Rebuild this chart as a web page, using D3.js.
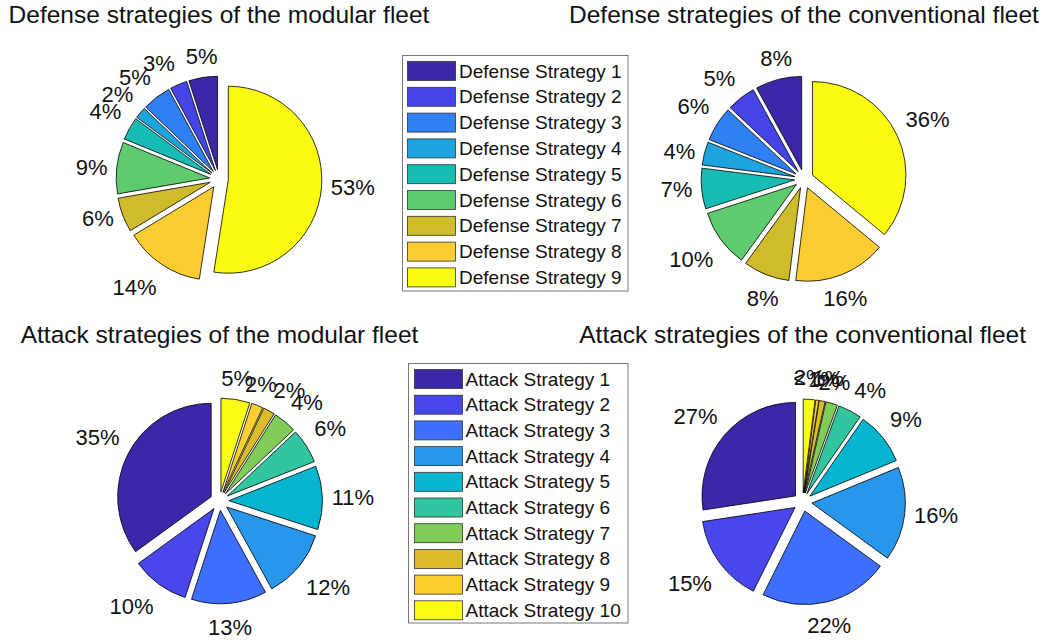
<!DOCTYPE html>
<html><head><meta charset="utf-8">
<script src="https://cdn.jsdelivr.net/npm/d3@7"></script>
<style>
body{margin:0;background:#fff;}
svg{display:block;}
text{font-family:"Liberation Sans",Arial,Helvetica,sans-serif;fill:#111;}
</style>
</head><body>
<svg id="chart" width="1048" height="644"></svg>
<script>
// ---------------- data ----------------
const defenseCategories = ["Defense Strategy 1","Defense Strategy 2","Defense Strategy 3","Defense Strategy 4","Defense Strategy 5","Defense Strategy 6","Defense Strategy 7","Defense Strategy 8","Defense Strategy 9"];
const attackCategories = ["Attack Strategy 1","Attack Strategy 2","Attack Strategy 3","Attack Strategy 4","Attack Strategy 5","Attack Strategy 6","Attack Strategy 7","Attack Strategy 8","Attack Strategy 9","Attack Strategy 10"];

const defenseModular      = [5, 3, 5, 2, 4, 9, 6, 14, 53];
const defenseConventional = [8, 5, 6, 4, 7, 10, 8, 16, 36];
const attackModular       = [35, 10, 13, 12, 11, 6, 4, 2, 2, 5];
const attackConventional  = [27, 15, 22, 16, 9, 4, 2, 1, 0.5, 2];

const defenseColors = ["#3e26a8","#4545e6","#2f7ff5","#1ea4dc","#17bdb3","#5fcb6f","#cfbc2a","#fccd33","#f8fa0f"];
const attackColors  = ["#3e26a8","#4747eb","#3e6fff","#2796eb","#08b5d0","#31c69f","#80cc59","#dcbd29","#fccf30","#f9fb15"];

const titles = ["Defense strategies of the modular fleet","Defense strategies of the conventional fleet","Attack strategies of the modular fleet","Attack strategies of the conventional fleet"];

// ---------------- layout ----------------
const svg = d3.select("#chart");
const R = 93.5;
const FS = 22;
const panels = [
  {title: titles[0], values: defenseModular,      cats: defenseCategories, colors: defenseColors, cx: 219,   cy: 179, ty: 23},
  {title: titles[1], values: defenseConventional, cats: defenseCategories, colors: defenseColors, cx: 804,   cy: 179, ty: 23},
  {title: titles[2], values: attackModular,       cats: attackCategories,  colors: attackColors,  cx: 219.5, cy: 501, ty: 343},
  {title: titles[3], values: attackConventional,  cats: attackCategories,  colors: attackColors,  cx: 802.6, cy: 502, ty: 343}
];

const pie = d3.pie().sort(null).value(d => d).startAngle(0).endAngle(-2 * Math.PI);
const arc = d3.arc().innerRadius(0).outerRadius(R);
const fmt = v => v < 1 ? "< 1%" : d3.format("d")(v) + "%";
const TH = 0.383; // compass-style alignment threshold

panels.forEach(p => {
  const color = d3.scaleOrdinal().domain(p.cats).range(p.colors);
  const g = svg.append("g").attr("transform", `translate(${p.cx},${p.cy})`);
  const arcs = pie(p.values);
  arcs.forEach((a, i) => {
    const mid = (a.startAngle + a.endAngle) / 2;
    const ux = Math.sin(mid), uy = -Math.cos(mid);
    g.append("path")
      .attr("d", arc(a))
      .attr("transform", `translate(${ux * 0.1 * R},${uy * 0.1 * R})`)
      .attr("fill", color(p.cats[i]))
      .attr("stroke", "#000")
      .attr("stroke-width", 0.8);
  });
  arcs.forEach((a, i) => {
    const mid = (a.startAngle + a.endAngle) / 2;
    const ux = Math.sin(mid), uy = -Math.cos(mid);
    const ax = ux * 1.2 * R, ay = uy * 1.2 * R;
    const anchor = ux > TH ? "start" : (ux < -TH ? "end" : "middle");
    let by;
    if (uy < -TH) by = ay - 0.212 * FS;          // text sits above the anchor
    else if (uy > TH) by = ay + 0.905 * FS + 2.5; // text hangs below the anchor
    else by = ay + 0.35 * FS;                    // vertically centred
    g.append("text")
      .attr("x", ax).attr("y", by)
      .attr("font-size", FS)
      .attr("text-anchor", anchor)
      .text(fmt(p.values[i]));
  });
  svg.append("text")
    .attr("x", p.cx).attr("y", p.ty)
    .attr("font-size", 24.5)
    .attr("text-anchor", "middle")
    .text(p.title);
});

// ---------------- legends ----------------
function legend(cats, colors, x0, y0, x1, y1, sx, sy, step, textX) {
  const color = d3.scaleOrdinal().domain(cats).range(colors);
  const lg = svg.append("g");
  lg.append("rect").attr("x", x0).attr("y", y0).attr("width", x1 - x0).attr("height", y1 - y0)
    .attr("fill", "#fff").attr("stroke", "#777").attr("stroke-width", 1);
  const ys = d3.scaleLinear().domain([0, cats.length - 1]).range([sy, sy + step * (cats.length - 1)]);
  cats.forEach((c, i) => {
    lg.append("rect").attr("x", sx).attr("y", ys(i)).attr("width", 48).attr("height", 19)
      .attr("fill", color(c)).attr("stroke", "#333").attr("stroke-width", 0.8);
    lg.append("text").attr("x", textX).attr("y", ys(i) + 9.5)
      .attr("dominant-baseline", "central").attr("font-size", 19).text(c);
  });
}
legend(defenseCategories, defenseColors, 402.5, 55.5, 628, 291, 407.5, 61.5, 25.8, 459);
legend(attackCategories, attackColors, 408.5, 363.5, 628, 623, 414.5, 369.5, 25.7, 465.5);
</script>
</body></html>
